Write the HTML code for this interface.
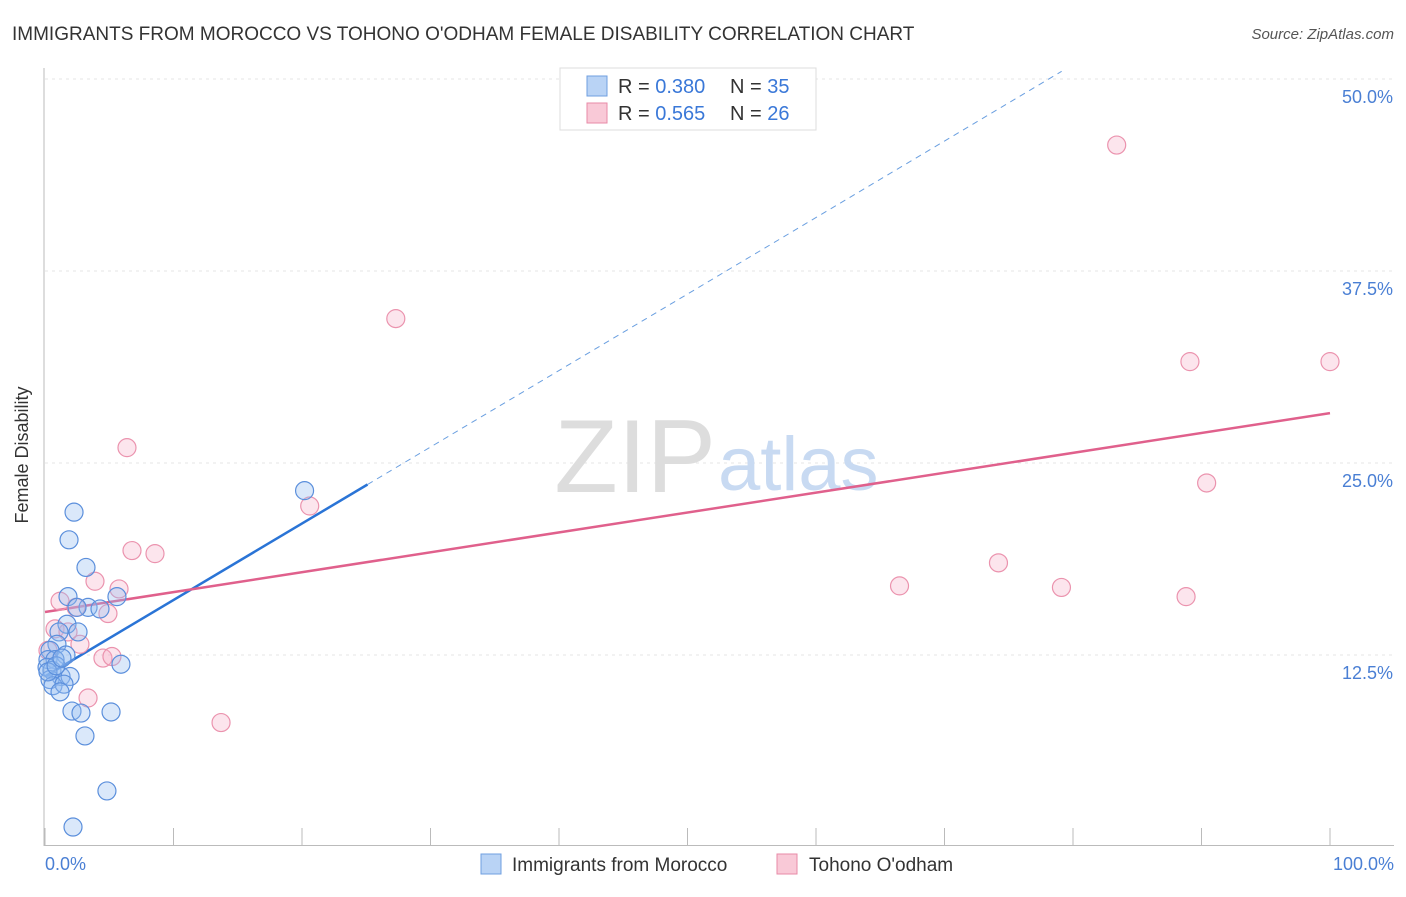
<!DOCTYPE html>
<html><head><meta charset="utf-8"><style>
body{margin:0;background:#fff;font-family:"Liberation Sans",sans-serif;}
svg text{font-family:"Liberation Sans",sans-serif;}
</style></head><body>
<svg width="1406" height="892" xmlns="http://www.w3.org/2000/svg">
<text x="12" y="40" font-size="19" fill="#333">IMMIGRANTS FROM MOROCCO VS TOHONO O'ODHAM FEMALE DISABILITY CORRELATION CHART</text>
<text x="1394" y="39" font-size="15" fill="#555" text-anchor="end" font-style="italic">Source: ZipAtlas.com</text>
<g id="grid"></g>
<text x="716" y="492" font-size="104" fill="#ddd" text-anchor="end" font-family="Liberation Serif">ZIP</text>
<text x="718" y="490" font-size="76" fill="#c8daf2">atlas</text>
<g id="lines"></g>
<g id="points"></g>
<text x="28" y="455" font-size="18" fill="#333" text-anchor="middle" transform="rotate(-90 28 455)">Female Disability</text>
<text x="45" y="870" font-size="18" fill="#4a7fd4">0.0%</text>
<text x="1394" y="870" font-size="18" fill="#4a7fd4" text-anchor="end">100.0%</text>
<g>
<rect x="560" y="68" width="256" height="62" fill="#fff" stroke="#ddd"/>
<rect x="587" y="76" width="20" height="20" fill="#b9d3f5" stroke="#6f9fe0"/>
<rect x="587" y="103" width="20" height="20" fill="#f9c9d7" stroke="#e88aa7"/>
<text x="618" y="93" font-size="20" fill="#333">R = <tspan fill="#3a78d8">0.380</tspan></text>
<text x="730" y="93" font-size="20" fill="#333">N = <tspan fill="#3a78d8">35</tspan></text>
<text x="618" y="120" font-size="20" fill="#333">R = <tspan fill="#3a78d8">0.565</tspan></text>
<text x="730" y="120" font-size="20" fill="#333">N = <tspan fill="#3a78d8">26</tspan></text>
</g>
<g>
<rect x="481" y="854" width="20" height="20" fill="#b9d3f5" stroke="#6f9fe0"/>
<text x="512" y="871" font-size="19" fill="#333">Immigrants from Morocco</text>
<rect x="777" y="854" width="20" height="20" fill="#f9c9d7" stroke="#e88aa7"/>
<text x="809" y="871" font-size="19" fill="#333">Tohono O'odham</text>
</g>
</svg>
<script>
const yTicks=[12.5,25,37.5,50];
const yTickLabels=["12.5%","25.0%","37.5%","50.0%"];
const xTicks=[0,10,20,30,40,50,60,70,80,90,100];
const moroccoX=[2.26,1.87,3.19,1.79,5.6,3.35,2.49,4.28,1.71,2.57,1.09,0.93,0.39,1.63,0.23,0.78,5.91,0.16,0.54,1.25,1.95,0.39,0.62,1.48,1.17,2.1,2.8,5.14,3.11,4.82,2.18,20.2,0.23,0.86,1.32];
const moroccoY=[21.8,20.0,18.2,16.3,16.3,15.6,15.6,15.5,14.5,14.0,14.0,13.2,12.8,12.5,12.2,12.2,11.9,11.7,11.5,11.1,11.1,10.9,10.5,10.6,10.1,8.85,8.72,8.79,7.23,3.65,1.3,23.2,11.4,11.8,12.3];
const tohonoX=[83.4,27.3,89.1,100,6.38,90.4,20.6,6.77,8.56,74.2,3.89,66.5,79.1,5.76,88.8,1.17,2.41,4.9,0.78,1.79,2.72,4.51,5.21,3.35,13.7,0.23];
const tohonoY=[45.7,34.4,31.6,31.6,26.0,23.7,22.2,19.3,19.1,18.5,17.3,17.0,16.9,16.8,16.3,16.0,15.6,15.2,14.2,14.0,13.2,12.3,12.4,9.7,8.1,12.8];
const moroccoFit=[11.1,0.498];
const tohonoFit=[15.3,0.1295];
const NS="http://www.w3.org/2000/svg";
const X=v=>45+v*12.85, Y=v=>847-v*15.36;
function mk(t,a,p){const e=document.createElementNS(NS,t);for(const k in a)e.setAttribute(k,a[k]);p.appendChild(e);return e;}
const grid=document.getElementById('grid');
yTicks.forEach((t,i)=>{
 const l=mk('line',{x1:45,x2:1394,y1:Y(t),y2:Y(t),stroke:'#e4e4e4','stroke-dasharray':'3,4'},grid);
 
 
 const tx=mk('text',{x:1393,y:Y(t)+24,'font-size':18,fill:'#4a7fd4','text-anchor':'end'},grid);
 tx.textContent=yTickLabels[i];
 
 
});
const ax=mk('line',{x1:44,x2:44,y1:68,y2:846,stroke:'#bbb'},grid);


const bx=mk('line',{x1:44,x2:1394,y1:845.5,y2:845.5,stroke:'#bbb'},grid);


xTicks.forEach(t=>{
 const l=mk('line',{x1:X(t),x2:X(t),y1:828,y2:846,stroke:'#bbb'},grid);
 
 
});
const lines=document.getElementById('lines');
const xs=25.1, xe=(50.5-moroccoFit[0])/moroccoFit[1];
let l1=mk('line',{x1:X(0),y1:Y(moroccoFit[0]),x2:X(xs),y2:Y(moroccoFit[0]+moroccoFit[1]*xs),stroke:'#2a74d6','stroke-width':2.5},lines);


let l2=mk('line',{x1:X(xs),y1:Y(moroccoFit[0]+moroccoFit[1]*xs),x2:X(xe),y2:Y(moroccoFit[0]+moroccoFit[1]*xe),stroke:'#6a9fe0','stroke-width':1,'stroke-dasharray':'6,5'},lines);


let l3=mk('line',{x1:X(0),y1:Y(tohonoFit[0]),x2:X(100),y2:Y(tohonoFit[0]+tohonoFit[1]*100),stroke:'#e0608c','stroke-width':2.5},lines);


const pts=document.getElementById('points');
tohonoX.forEach((x,i)=>{
 const c=mk('circle',{cx:X(x),cy:Y(tohonoY[i]),r:9,fill:'rgba(244,170,195,0.3)',stroke:'#eb93ae','stroke-width':1.2},pts);
 
 
});
moroccoX.forEach((x,i)=>{
 const c=mk('circle',{cx:X(x),cy:Y(moroccoY[i]),r:9,fill:'rgba(150,190,240,0.35)',stroke:'#5b8fdc','stroke-width':1.2},pts);
 
 
});
</script>
</body></html>
